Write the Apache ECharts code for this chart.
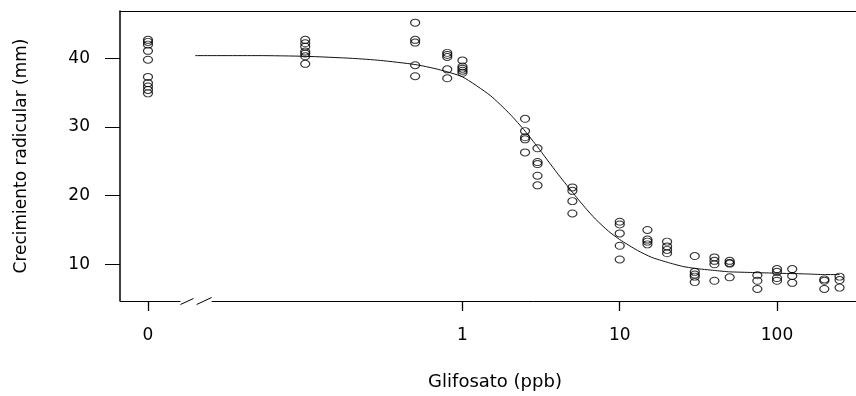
<!DOCTYPE html>
<html>
<head>
<meta charset="utf-8">
<script src="https://cdn.jsdelivr.net/npm/echarts@6/dist/echarts.min.js"></script>
<style>
  html, body { margin: 0; padding: 0; background: #fff; }
  #chart { width: 856px; height: 396px; }
</style>
</head>
<body>
<div id="chart"></div>
<script>
// glyphosate doses (ppb), one entry per group of observations
const doses = [0, 0.1, 0.5, 0.8, 1, 2.5, 3, 5, 10, 15, 20, 30, 40, 50, 75, 100, 125, 200, 250];
// root growth (mm) read per dose group
const growth = [
  [42.7, 42.4, 42.0, 41.1, 39.8, 37.3, 36.4, 35.9, 35.4, 34.9],
  [42.7, 42.2, 41.7, 41.0, 40.7, 40.3, 39.2],
  [45.2, 42.7, 42.3, 39.0, 37.4],
  [40.8, 40.5, 40.2, 38.4, 37.1],
  [39.7, 38.8, 38.5, 38.2, 37.9],
  [31.2, 29.4, 28.5, 28.2, 26.3],
  [26.9, 24.9, 24.6, 22.9, 21.5],
  [21.2, 20.7, 19.2, 17.4],
  [16.2, 15.8, 14.5, 12.7, 10.7],
  [15.0, 13.6, 13.3, 12.9],
  [13.3, 12.6, 12.1, 11.6],
  [11.2, 8.9, 8.5, 8.2, 7.4],
  [11.0, 10.5, 10.0, 7.6],
  [10.5, 10.2, 10.1, 8.1],
  [8.4, 7.6, 6.4],
  [9.3, 8.9, 8.0, 7.6],
  [9.3, 8.3, 7.3],
  [7.8, 7.6, 6.4],
  [8.2, 7.7, 6.6]
];
// fitted dose-response curve
const curveDoses = [0.02, 0.05, 0.1, 0.2, 0.3, 0.5, 0.7, 1, 1.5, 2, 2.5, 3, 4, 5, 6, 7, 8.5, 10, 13, 16, 20, 25, 30, 40, 50, 70, 100, 150, 200, 250];
const curveGrowth = [40.4, 40.4, 40.3, 40.0, 39.7, 39.1, 38.4, 37.3, 34.6, 31.9, 29.4, 27.1, 23.3, 20.5, 18.3, 16.6, 14.8, 13.6, 12.0, 11.0, 10.3, 9.7, 9.4, 9.1, 8.9, 8.8, 8.7, 8.6, 8.5, 8.5];
const xTicks = [0, 1, 10, 100];
const yTicks = [10, 20, 30, 40];

const ZERO_AT = 0.01;          // dose 0 is drawn at this spot of the log axis
const BREAK_FROM = 0.0161;     // axis break
const BREAK_TO = 0.0254;
const FONT = 'DejaVu Sans';

const pos = d => (d === 0 ? ZERO_AT : d);

const points = [];
doses.forEach((d, i) => growth[i].forEach(v => points.push([pos(d), v])));
const curve = curveDoses.map((d, i) => [d, curveGrowth[i]]);

const chart = echarts.init(document.getElementById('chart'), null, { renderer: 'canvas' });

const xBase = {
  type: 'log',
  logBase: 10,
  min: 0.00664,
  max: 318,
  splitLine: { show: false },
  minorTick: { show: false }
};

chart.setOption({
  animation: false,
  grid: { left: 120, top: 11, right: 0, bottom: 95, containLabel: false },
  xAxis: [
    Object.assign({}, xBase, {
      position: 'bottom',
      axisLine: { show: false },
      axisTick: {
        show: true, inside: false, length: 10,
        customValues: xTicks.map(pos),
        lineStyle: { color: '#000', width: 1.3 }
      },
      axisLabel: {
        customValues: xTicks.map(pos),
        margin: 26,
        color: '#000',
        fontFamily: FONT,
        fontSize: 17,
        formatter: v => (Math.abs(v - ZERO_AT) < 1e-9 ? '0' : String(Math.round(v)))
      },
      name: 'Glifosato (ppb)',
      nameLocation: 'middle',
      nameGap: 72,
      nameTextStyle: { color: '#000', fontFamily: FONT, fontSize: 18, padding: [0, 0, 0, 14] }
    }),
    Object.assign({}, xBase, {
      position: 'top',
      axisLine: { show: true, lineStyle: { color: '#000', width: 1 } },
      axisTick: { show: false },
      axisLabel: { show: false }
    })
  ],
  yAxis: {
    type: 'value',
    min: 4.65,
    max: 46.9,
    splitLine: { show: false },
    axisLine: { show: true, lineStyle: { color: '#000', width: 1.5 } },
    axisTick: {
      show: true, length: 15, customValues: yTicks,
      lineStyle: { color: '#000', width: 1 }
    },
    axisLabel: {
      customValues: yTicks,
      margin: 30,
      color: '#000',
      fontFamily: FONT,
      fontSize: 17
    },
    name: 'Crecimiento radicular (mm)',
    nameLocation: 'middle',
    nameGap: 90,
    nameTextStyle: { color: '#000', fontFamily: FONT, fontSize: 17 }
  },
  series: [
    {
      type: 'line',
      data: curve,
      showSymbol: false,
      smooth: 0.2,
      lineStyle: { color: '#111', width: 1 },
      z: 2
    },
    {
      type: 'scatter',
      data: points,
      symbol: 'path://M0,5 A5,5 0 1,1 10,5 A5,5 0 1,1 0,5 Z',
      symbolSize: [9, 7],
      itemStyle: { color: 'none', borderColor: '#000', borderWidth: 1.1 },
      z: 3
    }
  ]
});

// bottom frame line with the broken-axis marks
const gridRect = { left: 120, bottom: 396 - 95 };
const bx0 = chart.convertToPixel({ xAxisIndex: 0 }, BREAK_FROM);
const bx1 = chart.convertToPixel({ xAxisIndex: 0 }, BREAK_TO);
const yb = gridRect.bottom + 0.5;
const seg = (x1, y1, x2, y2) => ({
  type: 'line',
  shape: { x1, y1, x2, y2 },
  style: { stroke: '#000', lineWidth: 1 },
  silent: true
});
chart.setOption({
  graphic: [
    seg(gridRect.left, yb, bx0, yb),
    seg(bx1, yb, 856, yb),
    seg(bx0, yb + 3, bx0 + 13, yb - 3),
    seg(bx1 - 15, yb + 3, bx1, yb - 4)
  ]
});
</script>
</body>
</html>
